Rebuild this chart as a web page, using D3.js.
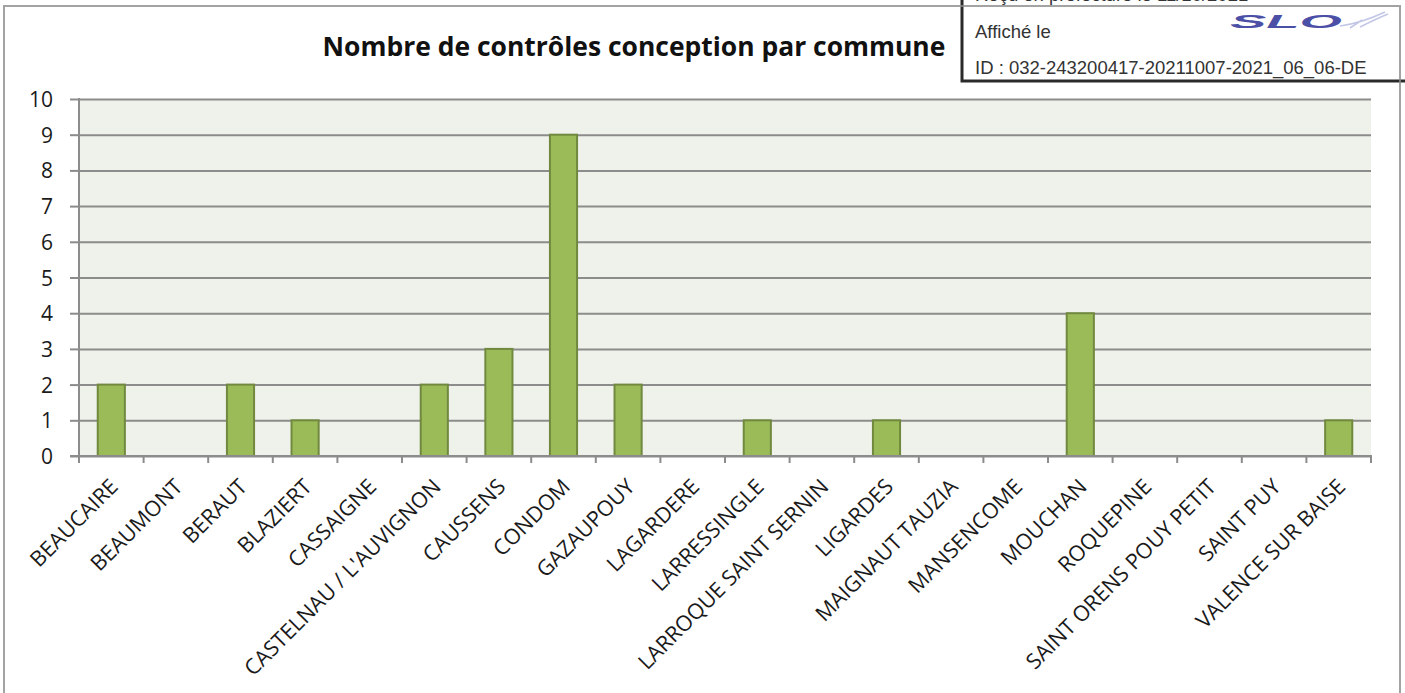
<!DOCTYPE html>
<html>
<head>
<meta charset="utf-8">
<script src="https://cdn.jsdelivr.net/npm/d3@7"></script>
<style>
  html, body { margin: 0; padding: 0; background: #ffffff; }
  svg { display: block; }
</style>
</head>
<body>
<svg id="my_dataviz" width="1405" height="693"></svg>
<script>
const communes = ["BEAUCAIRE", "BEAUMONT", "BERAUT", "BLAZIERT", "CASSAIGNE",
    "CASTELNAU / L'AUVIGNON", "CAUSSENS", "CONDOM", "GAZAUPOUY", "LAGARDERE",
    "LARRESSINGLE", "LARROQUE SAINT SERNIN", "LIGARDES", "MAIGNAUT TAUZIA",
    "MANSENCOME", "MOUCHAN", "ROQUEPINE", "SAINT ORENS POUY PETIT", "SAINT PUY",
    "VALENCE SUR BAISE"];
const controles = [2, 0, 2, 1, 0, 2, 3, 9, 2, 0, 1, 0, 1, 0, 0, 4, 0, 0, 0, 1];
const yTicks = [0, 1, 2, 3, 4, 5, 6, 7, 8, 9, 10];
const chartTitle = "Nombre de contrôles conception par commune";
const stampLines = ["Reçu en préfecture le 11/10/2021", "Affiché le",
    "ID : 032-243200417-20211007-2021_06_06-DE"];

const svg = d3.select("#my_dataviz");
const plot = {left: 79, right: 1371, top: 99, bottom: 456};
const gridColor = "#8c8c8c";
const font = "'Open Sans', sans-serif";

// title, fitted to the measured width
const title = svg.append("text")
    .attr("x", 634).attr("y", 56)
    .attr("text-anchor", "middle")
    .style("font-family", font)
    .style("font-weight", "bold")
    .style("font-size", "24px")
    .attr("fill", "#111")
    .text(chartTitle);
const tw = title.node().getComputedTextLength();
title.style("font-size", (24 * 623 / tw).toFixed(2) + "px");

const x = d3.scaleBand()
    .domain(communes)
    .range([plot.left, plot.right])
    .padding(0);

const xBar = d3.scaleBand()
    .domain(communes)
    .range([plot.left, plot.right])
    .paddingInner(0.58)
    .paddingOuter(0.29);

const y = d3.scaleLinear()
    .domain([0, 10])
    .range([plot.bottom, plot.top]);

// plot background
svg.append("rect")
    .attr("x", plot.left).attr("y", plot.top)
    .attr("width", plot.right - plot.left)
    .attr("height", plot.bottom - plot.top)
    .attr("fill", "#eff2ea");

// gridlines + y axis ticks
const yAxis = svg.append("g")
    .attr("transform", "translate(" + plot.left + ",0)")
    .call(d3.axisLeft(y)
        .tickValues(yTicks)
        .tickSize(-(plot.right - plot.left))
        .tickFormat(d3.format("d")));
yAxis.select(".domain").remove();
yAxis.selectAll(".tick line")
    .attr("stroke", gridColor)
    .attr("stroke-width", 2);
yAxis.selectAll(".tick")
    .append("line")
    .attr("x1", -9).attr("x2", 0)
    .attr("stroke", gridColor)
    .attr("stroke-width", 2);
yAxis.selectAll(".tick text")
    .attr("x", -26)
    .attr("dy", "0.36em")
    .style("font-family", font)
    .style("font-size", "21px")
    .attr("fill", "#1a1a1a");

// bars
svg.append("g")
    .selectAll("rect")
    .data(communes)
    .enter()
    .append("rect")
        .attr("x", (d) => xBar(d))
        .attr("y", (d, i) => y(controles[i]))
        .attr("width", xBar.bandwidth())
        .attr("height", (d, i) => y(0) - y(controles[i]))
        .attr("fill", "#9bbb59")
        .attr("stroke", "#71893f")
        .attr("stroke-width", 2);

// axis lines
svg.append("line")
    .attr("x1", plot.left).attr("x2", plot.left)
    .attr("y1", plot.top - 1).attr("y2", plot.bottom + 7)
    .attr("stroke", gridColor).attr("stroke-width", 2);
svg.append("line")
    .attr("x1", plot.left - 9).attr("x2", plot.right + 1)
    .attr("y1", plot.bottom).attr("y2", plot.bottom)
    .attr("stroke", gridColor).attr("stroke-width", 2);

// category boundary ticks
const boundaries = communes.map((d) => x(d)).concat([plot.right]);
svg.append("g")
    .selectAll("line")
    .data(boundaries)
    .enter()
    .append("line")
        .attr("x1", (d) => d).attr("x2", (d) => d)
        .attr("y1", plot.bottom).attr("y2", plot.bottom + 7)
        .attr("stroke", gridColor)
        .attr("stroke-width", 2);

// rotated category labels
svg.append("g")
    .selectAll("text")
    .data(communes)
    .enter()
    .append("text")
        .attr("transform", (d) => "translate(" + (x(d) + x.bandwidth() / 2 + 8) + "," + 488 + ") rotate(-45)")
        .attr("text-anchor", "end")
        .style("font-family", font)
        .style("font-size", "21.5px")
        .attr("fill", "#1a1a1a")
        .text((d) => d);

// stamp box (top right)
const stamp = svg.append("g");
stamp.append("rect")
    .attr("x", 962).attr("y", -10)
    .attr("width", 450).attr("height", 91)
    .attr("fill", "#ffffff")
    .attr("stroke", "#2a2a2a")
    .attr("stroke-width", 3);
stamp.selectAll("text.line")
    .data(stampLines)
    .enter()
    .append("text")
        .attr("class", "line")
        .attr("x", 975)
        .attr("y", (d, i) => 1 + i * 36.5)
        .style("font-family", "'Liberation Sans', Arial, sans-serif")
        .style("font-size", "18.5px")
        .attr("fill", "#333")
        .text((d) => d);

// SLO logo
stamp.append("path")
    .attr("d", "M1340,26 C1355,24 1368,20 1385,12 M1350,28 L1362,20 M1360,27 C1370,22 1378,18 1388,14")
    .attr("fill", "none")
    .attr("stroke", "#c3c7e6")
    .attr("stroke-width", 1.6);
stamp.append("text")
    .attr("x", 1230).attr("y", 28)
    .attr("textLength", 112)
    .attr("lengthAdjust", "spacingAndGlyphs")
    .style("font-family", "'Liberation Sans', Arial, sans-serif")
    .style("font-weight", "bold")
    .style("font-style", "italic")
    .style("font-size", "18px")
    .attr("fill", "#4b4fa6")
    .text("SLO");

// outer frame, drawn over the stamp like in the scan
svg.append("rect")
    .attr("x", 4).attr("y", 6)
    .attr("width", 1396).attr("height", 720)
    .attr("fill", "none")
    .attr("stroke", gridColor)
    .attr("stroke-opacity", 0.8)
    .attr("stroke-width", 2);
</script>
</body>
</html>
